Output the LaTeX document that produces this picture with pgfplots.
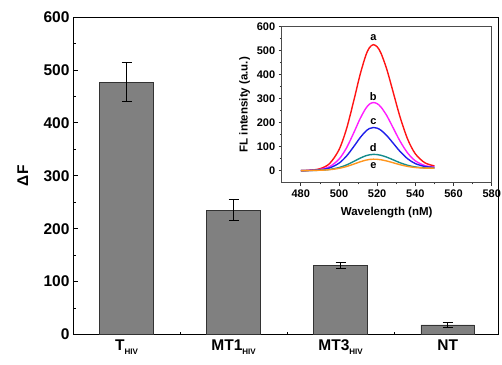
\documentclass[border=0pt]{standalone}
\usepackage{fontspec}
\setmainfont{Liberation Sans}
\usepackage{pgfplots}
\pgfplotsset{compat=1.18}
\definecolor{barfill}{RGB}{128,128,128}
\definecolor{cA}{RGB}{255,20,20}
\definecolor{cB}{RGB}{255,30,255}
\definecolor{cC}{RGB}{30,30,235}
\definecolor{cD}{RGB}{20,140,140}
\definecolor{cE}{RGB}{255,150,30}
\begin{document}
\begin{tikzpicture}
\begin{axis}[name=main, scale only axis, width=425bp, height=317.5bp,
  xmin=-0.5, xmax=3.47, ymin=0, ymax=600,
  xtick={0,1,2,3},
  xticklabels={T\raisebox{-0.45ex}{\fontsize{8bp}{8bp}\selectfont HIV},
               MT1\raisebox{-0.45ex}{\fontsize{8bp}{8bp}\selectfont HIV},
               MT3\raisebox{-0.45ex}{\fontsize{8bp}{8bp}\selectfont HIV},
               NT},
  minor xtick={0.5,1.5,2.5},
  ytick={0,100,...,600}, minor y tick num=1,
  xtick pos=bottom, ytick pos=left, tick align=inside,
  major tick length=4.5bp, minor tick length=2.5bp,
  tick style={line width=0.8bp, black},
  axis line style={line width=0.8bp},
  ticklabel style={font=\fontsize{15.5bp}{18bp}\selectfont\bfseries},
  xticklabel style={yshift=-2bp},
  /pgf/number format/assume math mode=true,
  ylabel={ΔF},
  ylabel style={font=\fontsize{15.5bp}{18bp}\selectfont\bfseries, at={(axis description cs:-0.118,0.5)}, anchor=center},
]
\addplot[ybar, bar width=0.5, fill=barfill, draw=black!80, line width=0.8bp,
  error bars/.cd, y dir=both, y explicit,
  error bar style={line width=1bp, black},
  error mark options={rotate=90, mark size=5bp, line width=1bp, black}]
  table[x=x, y=y, y error=e] {
x y e
0 477 37
1 235 20.5
2 130 6
3 18 5
};
\end{axis}
\begin{axis}[at={(main.south west)}, anchor=south west, xshift=208.7bp, yshift=151.8bp,
  scale only axis, width=210bp, height=156bp,
  xmin=470, xmax=580, ymin=-50, ymax=600,
  xtick={480,500,...,580}, minor x tick num=1,
  ytick={0,100,...,600}, minor y tick num=1,
  xtick pos=bottom, ytick pos=left, tick align=outside,
  major tick length=3bp, minor tick length=1.8bp,
  tick style={line width=0.6bp, black!80},
  axis line style={line width=0.7bp, black!70},
  ticklabel style={font=\fontsize{11bp}{13bp}\selectfont\bfseries},
  xticklabel style={yshift=-1bp},
  /pgf/number format/assume math mode=true,
  xlabel={Wavelength (nM)}, ylabel={FL intensity (a.u.)},
  label style={font=\fontsize{11.5bp}{13bp}\selectfont\bfseries},
  xlabel style={yshift=-2bp},
  every axis plot/.style={line width=1.4bp, smooth},
]
\addplot[cA] coordinates {(480,0.1)(485,2.2)(490,8.2)(495,29.1)(500,87.0)(504,175.7)(508,299.7)(511,398.5)(514,479.3)(516,513.3)(518,525.1)(520,516.3)(522,489.8)(525,423.7)(528,338.6)(532,223.6)(536,130.9)(540,70.3)(545,32.9)(550,20.0)};
\addplot[cB] coordinates {(480,0.1)(485,1.4)(490,5.0)(495,16.5)(500,47.8)(504,95.7)(508,162.4)(511,215.6)(514,259.2)(516,277.6)(518,284.0)(520,279.4)(522,265.3)(525,230.0)(528,184.4)(532,123.0)(536,73.4)(540,41.1)(545,21.3)(550,14.7)};
\addplot[cC] coordinates {(480,0)(485,1.2)(490,3.7)(495,11.3)(500,31.2)(504,61.4)(508,103.3)(511,136.8)(514,164.2)(516,175.9)(518,180.0)(520,177.3)(522,168.6)(525,146.7)(528,118.4)(532,80.2)(536,49.5)(540,29.6)(545,17.5)(550,13.7)};
\addplot[cD] coordinates {(480,0)(485,0.8)(490,2.2)(495,5.2)(500,12.9)(504,24.1)(508,39.6)(511,51.9)(514,62.1)(516,66.3)(518,68.0)(520,67.2)(522,64.2)(525,56.5)(528,46.7)(532,33.1)(536,22.4)(540,15.5)(545,11.6)(550,10.6)};
\addplot[cE] coordinates {(480,0)(485,0.8)(490,1.9)(495,4.2)(500,9.7)(504,17.5)(508,28.2)(511,36.7)(514,43.8)(516,46.8)(518,48.0)(520,47.5)(522,45.6)(525,40.5)(528,34.0)(532,24.9)(536,17.8)(540,13.3)(545,10.9)(550,10.4)};
\begin{scope}[every node/.style={font=\fontsize{11bp}{12bp}\selectfont\bfseries}]
\node at (axis cs:518,555) {a};
\node at (axis cs:518,310) {b};
\node at (axis cs:518,205) {c};
\node at (axis cs:518,97) {d};
\node at (axis cs:518,22) {e};
\end{scope}
\end{axis}
\pgfresetboundingbox
\path ([xshift=-73bp,yshift=-30.5bp]main.south west) rectangle ([xshift=4bp,yshift=17bp]main.north east);
\end{tikzpicture}
\end{document}
